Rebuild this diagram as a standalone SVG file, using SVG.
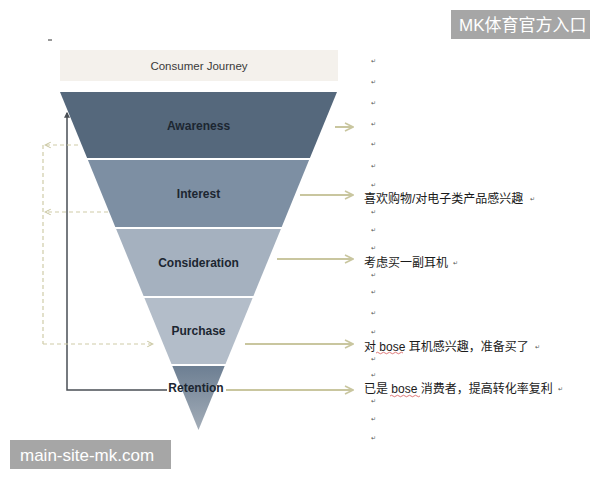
<svg xmlns="http://www.w3.org/2000/svg" width="600" height="480" viewBox="0 0 600 480">
<defs>
<style>
.lbl{font-family:"Liberation Sans","DejaVu Sans",sans-serif;font-weight:bold;font-size:12px;fill:#1c2631;text-anchor:middle}
.hdr{font-family:"Liberation Sans","DejaVu Sans",sans-serif;font-size:11.5px;fill:#3a3a3a;text-anchor:middle}
.cn{font-family:"Liberation Sans","Noto Sans CJK SC",sans-serif;font-size:12px;fill:#1a1a1a}
.pm{font-family:"DejaVu Sans",sans-serif;font-size:6px;fill:#555}
.wm{font-family:"Liberation Sans","Noto Sans CJK SC",sans-serif;font-size:17px;fill:#ffffff}
.arr{stroke:#c9c69f;stroke-width:2;fill:none}
.dash{stroke:#cfcca8;stroke-width:1.2;fill:none;stroke-dasharray:4 3}
.sep{stroke:#ffffff;stroke-width:2}
</style>
<marker id="ah" viewBox="0 0 10 10" refX="9" refY="5" markerWidth="5" markerHeight="5" orient="auto" markerUnits="strokeWidth">
<polyline points="1,1 9,5 1,9" fill="none" stroke="#c9c69f" stroke-width="1.6"/>
</marker>
<marker id="dah" viewBox="0 0 10 10" refX="9" refY="5" markerWidth="6" markerHeight="6" orient="auto-start-reverse" markerUnits="strokeWidth">
<polyline points="1,1 9,5 1,9" fill="none" stroke="#c9c6a0" stroke-width="1.5"/>
</marker>
<marker id="sah" viewBox="0 0 10 10" refX="8" refY="5" markerWidth="4" markerHeight="4" orient="auto" markerUnits="strokeWidth">
<path d="M0,0 L10,5 L0,10 z" fill="#4a4f55"/>
</marker>
<linearGradient id="gRet" x1="0" y1="0" x2="0" y2="1">
<stop offset="0" stop-color="#6c7e92"/>
<stop offset="1" stop-color="#a3adb8"/>
</linearGradient>
</defs>
<rect width="600" height="480" fill="#ffffff"/>
<line x1="48" y1="40" x2="52" y2="40" stroke="#333" stroke-width="1"/>

<g id="header">
<rect x="60" y="50" width="278" height="31" fill="#f4f1ec"/>
<text class="hdr" x="199" y="70">Consumer Journey</text>
</g>

<g id="awareness">
<polygon points="60,92 337,92 309.5,159 87.5,159" fill="#55687c"/>
<text class="lbl" x="198.5" y="130">Awareness</text>
</g>
<g id="interest">
<polygon points="87.5,159 309.5,159 281.3,228 115.7,228" fill="#7d8fa3"/>
<text class="lbl" x="198.5" y="198">Interest</text>
</g>
<g id="consideration">
<polygon points="115.7,228 281.3,228 253,297 144,297" fill="#a5b1bf"/>
<text class="lbl" x="198.5" y="267">Consideration</text>
</g>
<g id="purchase">
<polygon points="144,297 253,297 225.1,365 171.9,365" fill="#b3bdc9"/>
<text class="lbl" x="198.5" y="335">Purchase</text>
</g>
<g id="retention">
<polygon points="171.9,365 225.1,365 198.5,430" fill="url(#gRet)"/>
<text class="lbl" x="196" y="392">Retention</text>
</g>
<g id="separators">
<line class="sep" x1="86" y1="159" x2="311" y2="159"/>
<line class="sep" x1="114" y1="228" x2="283" y2="228"/>
<line class="sep" x1="143" y1="297" x2="254" y2="297"/>
<line class="sep" x1="171" y1="365" x2="226" y2="365"/>
</g>

<g id="connectors">
<line class="arr" x1="335" y1="127" x2="353" y2="127" marker-end="url(#ah)"/>
<line class="arr" x1="300" y1="195" x2="353" y2="195" marker-end="url(#ah)"/>
<line class="arr" x1="277" y1="259" x2="353" y2="259" marker-end="url(#ah)"/>
<line class="arr" x1="245" y1="344" x2="353" y2="344" marker-end="url(#ah)"/>
<line class="arr" x1="226" y1="390" x2="353" y2="390" marker-end="url(#ah)"/>
<polyline points="167,390 67,390 67,113" fill="none" stroke="#4a4f55" stroke-width="1.5" marker-end="url(#sah)"/>
<line class="dash" x1="43" y1="145" x2="43" y2="344"/>
<line class="dash" x1="78" y1="145" x2="45" y2="145" marker-end="url(#dah)"/>
<line class="dash" x1="108" y1="212" x2="45" y2="212" marker-end="url(#dah)"/>
<line class="dash" x1="43" y1="344" x2="153" y2="344" marker-end="url(#dah)"/>
</g>

<g id="notes">
<text class="cn" x="364" y="203">喜欢购物/对电子类产品感兴趣</text>
<text class="cn" x="364" y="267">考虑买一副耳机</text>
<text class="cn" x="364" y="351">对 bose 耳机感兴趣，准备买了</text>
<text class="cn" x="364" y="393">已是 bose 消费者，提高转化率复利</text>
<path d="M376,353 q1.5,-1.5 3,0 t3,0 t3,0 t3,0 t3,0 t3,0 t3,0 t3,0 t3,0" fill="none" stroke="#d04040" stroke-width="0.7"/>
<path d="M390,396 q1.5,-1.5 3,0 t3,0 t3,0 t3,0 t3,0 t3,0 t3,0 t3,0 t3,0 t3,0" fill="none" stroke="#d04040" stroke-width="0.7"/>
</g>

<g id="paragraph-marks">
<text class="pm" x="371" y="63">↵</text>
<text class="pm" x="371" y="84">↵</text>
<text class="pm" x="371" y="105">↵</text>
<text class="pm" x="371" y="126">↵</text>
<text class="pm" x="371" y="146">↵</text>
<text class="pm" x="371" y="168">↵</text>
<text class="pm" x="371" y="187">↵</text>
<text class="pm" x="371" y="214">↵</text>
<text class="pm" x="371" y="232">↵</text>
<text class="pm" x="371" y="250">↵</text>
<text class="pm" x="371" y="277">↵</text>
<text class="pm" x="371" y="294">↵</text>
<text class="pm" x="371" y="315">↵</text>
<text class="pm" x="371" y="334">↵</text>
<text class="pm" x="371" y="361">↵</text>
<text class="pm" x="371" y="377">↵</text>
<text class="pm" x="371" y="403">↵</text>
<text class="pm" x="371" y="421">↵</text>
<text class="pm" x="371" y="440">↵</text>
<text class="pm" x="530" y="201">↵</text>
<text class="pm" x="453" y="265">↵</text>
<text class="pm" x="535" y="349">↵</text>
<text class="pm" x="558" y="391">↵</text>
</g>

<g id="watermarks">
<rect x="451" y="10" width="139" height="29" fill="#a6a6a6"/>
<text class="wm" x="459" y="31">MK体育官方入口</text>
<rect x="10" y="440" width="161" height="29" fill="#a6a6a6"/>
<text class="wm" x="20" y="461">main-site-mk.com</text>
</g>
</svg>
